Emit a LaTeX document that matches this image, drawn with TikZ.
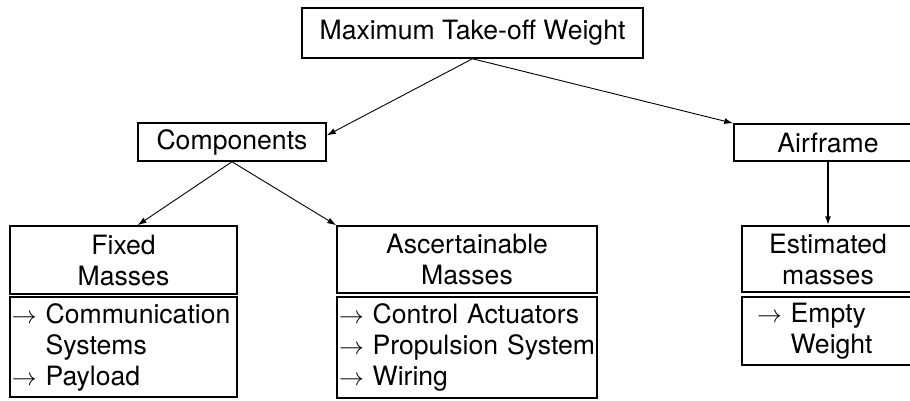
\documentclass[tikz,border=0pt]{standalone}
\usepackage{fontspec}
\setmainfont{TeX Gyre Heros}
\usetikzlibrary{arrows.meta}

\begin{document}
\begin{tikzpicture}[x=1bp,y=1bp,font=\fontsize{26.6bp}{31bp}\selectfont,
    bx/.style={draw,line width=1.5bp,inner sep=0pt,align=center},
    ls/.style={draw,line width=1.5bp,inner xsep=2bp,inner ysep=0pt,align=left,text width=#1},
    ar/.style={-{Latex[length=9bp,width=6bp]},line width=0.9bp}]
  \clip (0,0) rectangle (910,-400);
  \node[bx,minimum width=341bp,minimum height=50bp] (mtow) at (472.5,-33) {Maximum Take-off Weight};
  \node[bx,minimum width=188bp,minimum height=38bp] (comp) at (232,-142) {Components};
  \node[bx,minimum width=188bp,minimum height=37bp] (air) at (828,-142.5) {Airframe};
  % mass groups: header on top, list just below
  \node[bx,minimum width=227bp,minimum height=68bp] (fixhd) at (123.5,-260) {Fixed\\Masses};
  \node[ls=223bp,minimum height=100bp] (fixls) at (123.5,-347) {$\rightarrow$ Communication\\\phantom{$\rightarrow$} Systems\\$\rightarrow$ Payload};
  \node[bx,minimum width=260bp,minimum height=67bp] (aschd) at (467,-259.5) {Ascertainable\\Masses};
  \node[ls=256bp,minimum height=101bp] (ascls) at (467,-347.5) {$\rightarrow$ Control Actuators\\$\rightarrow$ Propulsion System\\$\rightarrow$ Wiring};
  \node[bx,minimum width=172bp,minimum height=66bp] (esthd) at (828,-259) {Estimated\\masses};
  \node[ls=142bp,inner xsep=15bp,minimum height=68bp] (estls) at (828,-331) {$\rightarrow$ Empty\\\phantom{$\rightarrow$} Weight};
  \foreach \a/\b in {mtow.south/comp.4,mtow.south/air.north west,comp.south/fixhd.68,comp.south/aschd.north west}{\draw[ar] (\a) -- (\b);}
  \draw[ar,line width=1.6bp] (air.south) -- (esthd.north);
\end{tikzpicture}
\end{document}
